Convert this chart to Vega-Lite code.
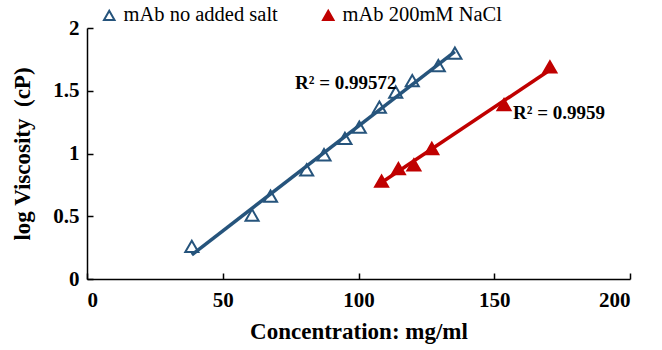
{
  "$schema": "https://vega.github.io/schema/vega-lite/v6.json",
  "autosize": {"type": "none"},
  "width": 543,
  "height": 251,
  "padding": {"left": 87, "top": 28, "right": 32, "bottom": 71},
  "background": "white",
  "config": {
    "view": {"stroke": null},
    "font": "Liberation Serif",
    "axis": {
      "domainColor": "black", "domainWidth": 1.5, "tickColor": "black", "tickWidth": 1.5,
      "tickSize": -6, "grid": false, "labelFont": "Liberation Serif", "labelFontWeight": "bold",
      "labelFontSize": 21, "labelColor": "black", "titleFont": "Liberation Serif",
      "titleFontWeight": "bold", "titleFontSize": 23, "titleColor": "black"
    },
    "legend": {
      "labelFont": "Liberation Serif", "labelFontSize": 20.5, "labelColor": "black",
      "titleFont": "Liberation Serif"
    }
  },
  "datasets": {
    "pts": [
      {"conc": 38.6, "logv": 0.26, "series": "mAb no added salt"},
      {"conc": 60.8, "logv": 0.51, "series": "mAb no added salt"},
      {"conc": 67.6, "logv": 0.66, "series": "mAb no added salt"},
      {"conc": 80.9, "logv": 0.87, "series": "mAb no added salt"},
      {"conc": 87.3, "logv": 0.99, "series": "mAb no added salt"},
      {"conc": 95.0, "logv": 1.12, "series": "mAb no added salt"},
      {"conc": 100.3, "logv": 1.21, "series": "mAb no added salt"},
      {"conc": 107.7, "logv": 1.37, "series": "mAb no added salt"},
      {"conc": 113.7, "logv": 1.49, "series": "mAb no added salt"},
      {"conc": 119.8, "logv": 1.58, "series": "mAb no added salt"},
      {"conc": 129.4, "logv": 1.70, "series": "mAb no added salt"},
      {"conc": 135.5, "logv": 1.80, "series": "mAb no added salt"},
      {"conc": 108.5, "logv": 0.78, "series": "mAb 200mM NaCl"},
      {"conc": 114.7, "logv": 0.88, "series": "mAb 200mM NaCl"},
      {"conc": 120.4, "logv": 0.91, "series": "mAb 200mM NaCl"},
      {"conc": 127.0, "logv": 1.04, "series": "mAb 200mM NaCl"},
      {"conc": 153.6, "logv": 1.39, "series": "mAb 200mM NaCl"},
      {"conc": 170.5, "logv": 1.69, "series": "mAb 200mM NaCl"}
    ],
    "notes": [
      {"conc": 76.6, "logv": 1.56, "label": "R² = 0.99572"},
      {"conc": 156.9, "logv": 1.32, "label": "R² = 0.9959"}
    ]
  },
  "layer": [
    {
      "data": {"name": "pts"},
      "mark": {"type": "point", "shape": "triangle-up", "size": 170, "strokeWidth": 2, "opacity": 1},
      "encoding": {
        "x": {"field": "conc", "type": "quantitative", "scale": {"domain": [0, 200], "nice": false},
          "axis": {"values": [0, 50, 100, 150, 200], "title": "Concentration: mg/ml", "labelPadding": 16, "titlePadding": 10}},
        "y": {"field": "logv", "type": "quantitative", "scale": {"domain": [0, 2], "nice": false},
          "axis": {"values": [0, 0.5, 1, 1.5, 2], "format": "~g", "title": "log Viscosity\u00a0 (cP)", "labelPadding": 14, "titlePadding": 18}},
        "stroke": {"field": "series", "type": "nominal",
          "scale": {"domain": ["mAb no added salt", "mAb 200mM NaCl"], "range": ["#26547C", "#C00000"]},
          "legend": {"title": null, "orient": "none", "direction": "horizontal", "legendX": 12, "legendY": -23,
            "symbolType": "triangle-up", "symbolSize": 110, "symbolStrokeWidth": 2, "labelFont": "Liberation Serif",
            "labelFontSize": 20.5, "labelColor": "black", "columnPadding": 40, "labelOffset": 4}},
        "fill": {"field": "series", "type": "nominal",
          "scale": {"domain": ["mAb no added salt", "mAb 200mM NaCl"], "range": ["transparent", "#C00000"]},
          "legend": {"title": null, "orient": "none", "direction": "horizontal", "legendX": 12, "legendY": -23,
            "symbolType": "triangle-up", "symbolSize": 110, "symbolStrokeWidth": 2, "labelFont": "Liberation Serif",
            "labelFontSize": 20.5, "labelColor": "black", "columnPadding": 40, "labelOffset": 4}}
      }
    },
    {
      "data": {"name": "pts"},
      "transform": [{"regression": "logv", "on": "conc", "groupby": ["series"], "method": "linear"}],
      "mark": {"type": "line", "strokeWidth": 3.5},
      "encoding": {
        "x": {"field": "conc", "type": "quantitative"},
        "y": {"field": "logv", "type": "quantitative"},
        "color": {"field": "series", "type": "nominal",
          "scale": {"domain": ["mAb no added salt", "mAb 200mM NaCl"], "range": ["#26547C", "#C00000"]},
          "legend": null}
      }
    },
    {
      "data": {"name": "notes"},
      "mark": {"type": "text", "align": "left", "baseline": "middle", "font": "Liberation Serif", "fontWeight": "bold", "fontSize": 19, "color": "black"},
      "encoding": {
        "x": {"field": "conc", "type": "quantitative"},
        "y": {"field": "logv", "type": "quantitative"},
        "text": {"field": "label", "type": "nominal"}
      }
    }
  ]
}
